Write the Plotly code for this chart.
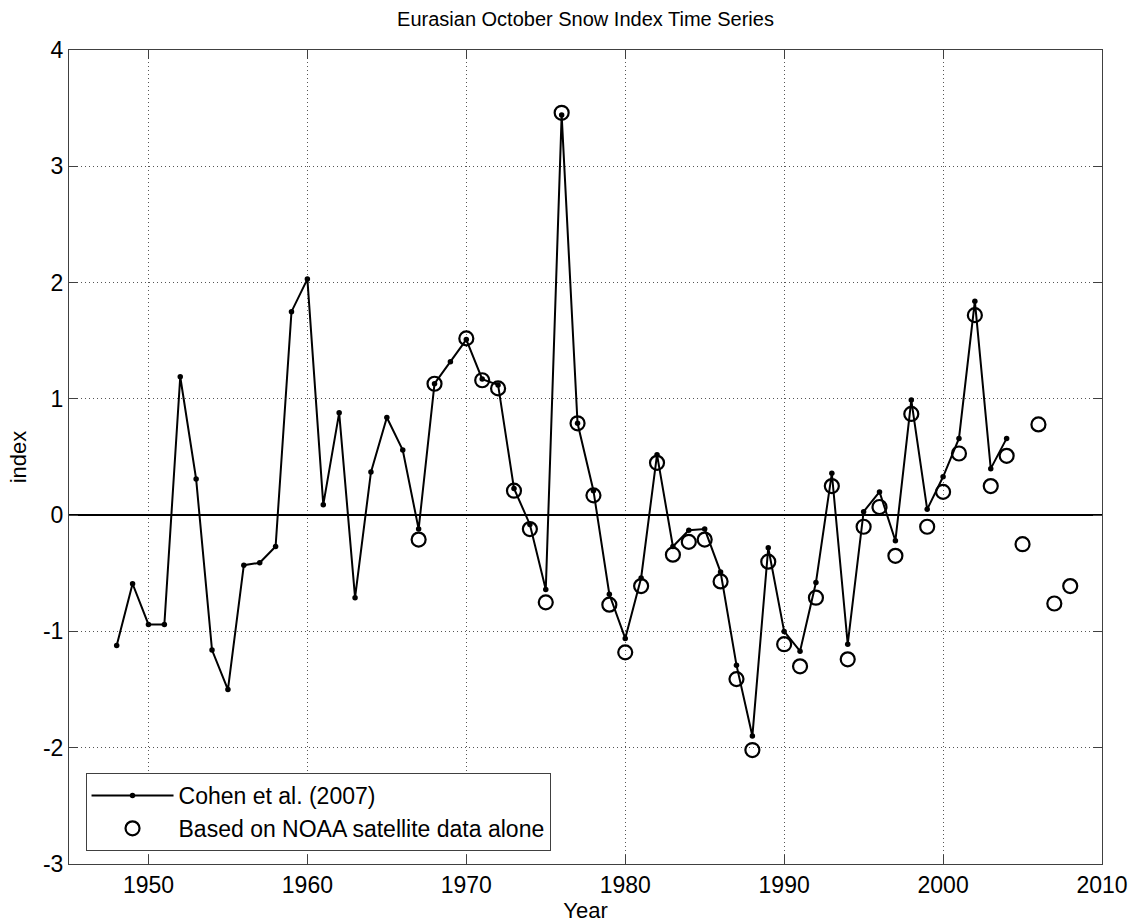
import plotly.graph_objects as go

# Cohen et al. (2007) Eurasian October snow index
cohen_years = list(range(1948, 2005))
cohen_index = [
    -1.12, -0.59, -0.94, -0.94, 1.19, 0.31, -1.16, -1.50, -0.43, -0.41,
    -0.27, 1.75, 2.03, 0.09, 0.88, -0.71, 0.37, 0.84, 0.56, -0.12,
    1.13, 1.32, 1.51, 1.17, 1.12, 0.23, -0.08, -0.64, 3.44, 0.79,
    0.21, -0.68, -1.06, -0.54, 0.52, -0.27, -0.13, -0.12, -0.49, -1.29,
    -1.90, -0.28, -1.00, -1.17, -0.58, 0.36, -1.11, 0.03, 0.20, -0.22,
    0.99, 0.05, 0.33, 0.66, 1.84, 0.40, 0.66,
]

# Index computed from NOAA satellite data alone
noaa_years = [1967, 1968] + list(range(1970, 2009))
noaa_index = [
    -0.21, 1.13,
    1.52, 1.16, 1.09, 0.21, -0.12, -0.75, 3.46, 0.79, 0.17, -0.77,
    -1.18, -0.61, 0.45, -0.34, -0.23, -0.21, -0.57, -1.41, -2.02, -0.40,
    -1.11, -1.30, -0.71, 0.25, -1.24, -0.10, 0.07, -0.35, 0.87, -0.10,
    0.20, 0.53, 1.72, 0.25, 0.51, -0.25, 0.78, -0.76, -0.61,
]

x_ticks = [1950, 1960, 1970, 1980, 1990, 2000, 2010]
y_ticks = [-3, -2, -1, 0, 1, 2, 3, 4]

FONT = "Liberation Sans, Arial, sans-serif"

fig = go.Figure()
fig.add_trace(go.Scatter(
    x=cohen_years, y=cohen_index, mode="lines+markers",
    name="Cohen et al. (2007)",
    line=dict(color="black", width=2),
    marker=dict(symbol="circle", size=5.5, color="black"),
))
fig.add_trace(go.Scatter(
    x=noaa_years, y=noaa_index, mode="markers",
    name="Based on NOAA satellite data alone",
    marker=dict(symbol="circle-open", size=14, color="black",
                line=dict(width=2.2, color="black")),
))

axis_common = dict(
    showline=True, linecolor="#404040", linewidth=1, mirror="ticks",
    ticks="inside", ticklen=9, tickwidth=1, tickcolor="#404040",
    showgrid=True, gridcolor="#555555", gridwidth=1, griddash="1px,3px",
    tickfont=dict(family=FONT, size=23, color="black"),
    automargin=False,
)

fig.update_xaxes(
    range=[1945, 2010], tickvals=x_ticks, ticktext=[str(v) for v in x_ticks],
    zeroline=False,
    title=dict(text="Year", font=dict(family=FONT, size=22, color="black"), standoff=2),
    **axis_common,
)
fig.update_yaxes(
    range=[-3, 4], tickvals=y_ticks, ticktext=[str(v) for v in y_ticks],
    zeroline=True, zerolinecolor="black", zerolinewidth=2,
    title=dict(text="index", font=dict(family=FONT, size=22, color="black"), standoff=10),
    **axis_common,
)

fig.update_layout(
    width=1133, height=924,
    margin=dict(l=69, r=31, t=50, b=60, autoexpand=False),
    paper_bgcolor="white", plot_bgcolor="white",
    title=dict(text="Eurasian October Snow Index Time Series",
               font=dict(family=FONT, size=20, color="black"),
               x=0.5, xanchor="center", xref="paper",
               y=1 - 19 / 924, yref="container", yanchor="middle"),
    legend=dict(
        x=0.016, y=0.016, xanchor="left", yanchor="bottom",
        bgcolor="white", bordercolor="#404040", borderwidth=1,
        font=dict(family=FONT, size=23, color="black"),
        itemwidth=82, tracegroupgap=0,
    ),
    showlegend=True,
)

fig.write_html("out.html")
